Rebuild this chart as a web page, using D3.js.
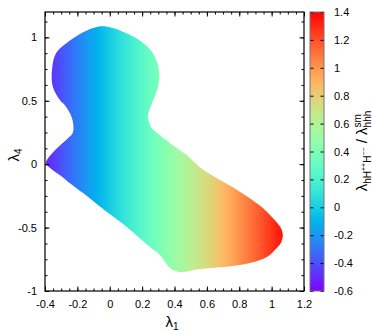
<!DOCTYPE html>
<html>
<head>
<meta charset="utf-8">
<script src="https://cdn.jsdelivr.net/npm/d3@7/dist/d3.min.js"></script>
<style>
  body { margin: 0; background: #fff; }
  text { font-family: "Liberation Sans", Arial, sans-serif; fill: #000; }
</style>
</head>
<body>
<svg id="chart" width="372" height="331"></svg>
<script>
// outline of the allowed region (lambda1, lambda4)
const lambda1Edge = [-0.054, 0.001, 0.063, 0.186, 0.267, 0.304, 0.298, 0.260, 0.236, 0.236,
  0.260, 0.310, 0.390, 0.477, 0.557, 0.662, 0.760, 0.865, 0.946, 1.007, 1.057, 1.069, 1.057,
  1.026, 0.970, 0.865, 0.760, 0.557, 0.433, 0.372, 0.310, 0.248, 0.106, -0.017, -0.165,
  -0.246, -0.307, -0.351, -0.394, -0.381, -0.326, -0.258, -0.227, -0.233, -0.277, -0.307,
  -0.351, -0.357, -0.332, -0.246, -0.141];
const lambda4Edge = [1.087, 1.079, 1.055, 0.976, 0.874, 0.740, 0.606, 0.480, 0.386, 0.362,
  0.283, 0.228, 0.150, 0.071, -0.024, -0.110, -0.181, -0.268, -0.346, -0.425, -0.504, -0.559,
  -0.622, -0.669, -0.732, -0.780, -0.803, -0.827, -0.850, -0.819, -0.717, -0.654, -0.496,
  -0.378, -0.228, -0.150, -0.087, -0.047, 0.008, 0.047, 0.126, 0.205, 0.252, 0.362, 0.465,
  0.504, 0.606, 0.740, 0.874, 0.976, 1.055];

// colour value (lambda_hH++H-- / lambda_hhh^sm) against lambda1
const colorL1 = [-0.4, -0.2, 0, 0.2, 0.4, 0.6, 0.8, 1.0, 1.1];
const colorZ = [-0.52, -0.27, -0.01, 0.25, 0.50, 0.75, 1.01, 1.27, 1.40];

const xTicks = [-0.4, -0.2, 0, 0.2, 0.4, 0.6, 0.8, 1, 1.2];
const yTicks = [-1, -0.5, 0, 0.5, 1];
const zTicks = [-0.6, -0.4, -0.2, 0, 0.2, 0.4, 0.6, 0.8, 1, 1.2, 1.4];

const plotL = 45, plotR = 304, plotT = 12, plotB = 291;
const cbL = 310, cbR = 324;

const svg = d3.select('#chart');
const fmt = d => String(+d.toFixed(3));

const x = d3.scaleLinear().domain([-0.4, 1.2]).range([plotL, plotR]);
const y = d3.scaleLinear().domain([-1, 1.2]).range([plotB, plotT]);
const zY = d3.scaleLinear().domain([-0.6, 1.4]).range([plotB, plotT]);

// gnuplot rainbow palette (rgbformulae 33,13,10)
function rainbow(t) {
  const c = v => Math.max(0, Math.min(1, v)) * 255;
  return d3.rgb(c(Math.abs(2 * t - 0.5)), c(Math.sin(Math.PI * t)), c(Math.cos(Math.PI * t / 2))).toString();
}
const zColor = d3.scaleSequential(rainbow).domain([-0.6, 1.4]);
const zOfL1 = d3.scaleLinear().domain(colorL1).range(colorZ);

const defs = svg.append('defs');

// horizontal gradient for the scatter region
const fillGrad = defs.append('linearGradient')
  .attr('id', 'fillGrad')
  .attr('gradientUnits', 'userSpaceOnUse')
  .attr('x1', x(-0.4)).attr('x2', x(1.1)).attr('y1', 0).attr('y2', 0);
fillGrad.selectAll('stop')
  .data(d3.range(0, 1.0001, 0.02))
  .join('stop')
  .attr('offset', d => d)
  .attr('stop-color', d => zColor(zOfL1(-0.4 + d * 1.5)));

// vertical gradient for the colour box
const cbGrad = defs.append('linearGradient')
  .attr('id', 'cbGrad')
  .attr('x1', 0).attr('x2', 0).attr('y1', 1).attr('y2', 0);
cbGrad.selectAll('stop')
  .data(d3.range(0, 1.0001, 0.02))
  .join('stop')
  .attr('offset', d => d)
  .attr('stop-color', d => rainbow(d));

// region
const region = d3.zip(lambda1Edge, lambda4Edge);
svg.append('path')
  .datum(region)
  .attr('d', d3.line().x(d => x(d[0])).y(d => y(d[1])).curve(d3.curveCatmullRomClosed.alpha(0.5)))
  .attr('fill', 'url(#fillGrad)');

// axes, ticks inward on all sides
function ticksOn(axis, tr, values, size, labels, pad) {
  const g = svg.append('g').attr('transform', tr)
    .call(axis.tickValues(values).tickSize(size).tickPadding(pad || 0)
      .tickFormat(labels ? fmt : ''));
  g.select('.domain').remove();
  g.selectAll('line').attr('stroke', '#000').attr('stroke-width', 1);
  g.selectAll('text').attr('font-size', 11).attr('fill', '#000');
  return g;
}
const xMinor = d3.range(-0.4, 1.2001, 0.05);
const yMinor = d3.range(-1, 1.2001, 0.125);

ticksOn(d3.axisBottom(x), `translate(0,${plotB})`, xTicks, -4.5, true, 9);
ticksOn(d3.axisBottom(x), `translate(0,${plotB})`, xMinor, -2.5, false);
ticksOn(d3.axisTop(x), `translate(0,${plotT})`, xTicks, -4.5, false);
ticksOn(d3.axisTop(x), `translate(0,${plotT})`, xMinor, -2.5, false);
ticksOn(d3.axisLeft(y), `translate(${plotL},0)`, yTicks, -4.5, true, 8);
ticksOn(d3.axisLeft(y), `translate(${plotL},0)`, yMinor, -2.5, false);
ticksOn(d3.axisRight(y), `translate(${plotR},0)`, yTicks, -4.5, false);
ticksOn(d3.axisRight(y), `translate(${plotR},0)`, yMinor, -2.5, false);

svg.append('rect')
  .attr('x', plotL).attr('y', plotT)
  .attr('width', plotR - plotL).attr('height', plotB - plotT)
  .attr('fill', 'none').attr('stroke', '#000').attr('stroke-width', 1.2);

// colour box
svg.append('rect')
  .attr('x', cbL).attr('y', plotT)
  .attr('width', cbR - cbL).attr('height', plotB - plotT)
  .attr('fill', 'url(#cbGrad)');
ticksOn(d3.axisRight(zY), `translate(${cbR},0)`, zTicks, -3.5, true, 10);
ticksOn(d3.axisLeft(zY), `translate(${cbL},0)`, zTicks, -3.5, false);
svg.append('rect')
  .attr('x', cbL).attr('y', plotT)
  .attr('width', cbR - cbL).attr('height', plotB - plotT)
  .attr('fill', 'none').attr('stroke', '#777').attr('stroke-width', 1);

// axis titles
const xl = svg.append('text').attr('x', 172).attr('y', 327).attr('text-anchor', 'middle');
xl.append('tspan').attr('font-size', 15).text('λ');
xl.append('tspan').attr('font-size', 10).attr('dy', 3).text('1');

const yl = svg.append('text').attr('text-anchor', 'middle')
  .attr('transform', 'translate(19,155) rotate(-90)');
yl.append('tspan').attr('font-size', 15).text('λ');
yl.append('tspan').attr('font-size', 10).attr('dy', 3).text('4');

// colour box title
const zl = svg.append('text').attr('transform', 'translate(367,151) rotate(-90)');
zl.append('tspan').attr('font-size', 15).text('λ');
zl.append('tspan').attr('font-size', 10).attr('dy', 4).text('hH');
zl.append('tspan').attr('font-size', 7).attr('dy', -5).text('++');
zl.append('tspan').attr('font-size', 10).attr('dy', 5).text('H');
zl.append('tspan').attr('font-size', 7).attr('dy', -5).text('−−');
zl.append('tspan').attr('font-size', 15).attr('dy', 1).text(' / λ');
const sm = zl.append('tspan').attr('font-size', 10).attr('dy', -6).text('sm');
const smW = sm.node().getComputedTextLength();
zl.append('tspan').attr('font-size', 10).attr('dy', 10).attr('dx', -smW).text('hhh');
const zw = zl.node().getBBox().width;
zl.attr('x', -zw / 2);
</script>
</body>
</html>
